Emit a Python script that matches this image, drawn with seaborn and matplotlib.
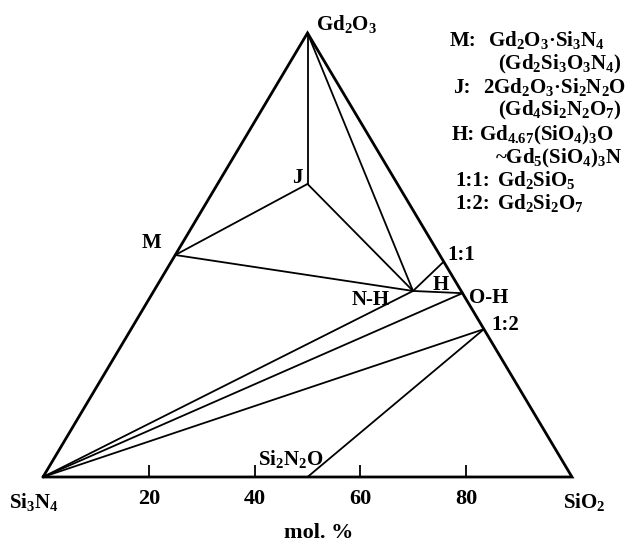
import numpy as np
import pandas as pd
import matplotlib
matplotlib.use("Agg")
import matplotlib.pyplot as plt
import seaborn as sns

# Phase compositions in mol.% (Si3N4 is the remainder to 100)
phases = ["Si3N4", "SiO2", "Gd2O3", "M", "J", "N-H", "1:1", "O-H", "1:2", "Si2N2O"]
gd2o3_pct = [0, 0, 100, 50, 66, 41.9, 48.5, 41.4, 33.3, 0]
sio2_pct = [0, 100, 0, 0, 17, 49.0, 51.5, 58.6, 66.7, 50]

# Triangle outline and tie lines (pairs of phases)
outline = ["Si3N4", "SiO2", "Gd2O3", "Si3N4"]
tie_lines = [
    ("Gd2O3", "J"), ("Gd2O3", "N-H"), ("M", "J"), ("J", "N-H"),
    ("M", "N-H"), ("N-H", "1:1"), ("N-H", "O-H"),
    ("Si3N4", "N-H"), ("Si3N4", "O-H"), ("Si3N4", "1:2"),
    ("Si2N2O", "1:2"),
]

tick_values = [20, 40, 60, 80]
tick_labels = ["20", "40", "60", "80"]

legend_keys = ["M:", "", "J:", "", "H:", "", "1:1:", "1:2:"]
legend_formulas = [
    r"Gd$_2$O$_3$·Si$_3$N$_4$",
    r"(Gd$_2$Si$_3$O$_3$N$_4$)",
    r"2Gd$_2$O$_3$·Si$_2$N$_2$O",
    r"(Gd$_4$Si$_2$N$_2$O$_7$)",
    r"Gd$_{4.67}$(SiO$_4$)$_3$O",
    r"~Gd$_5$(SiO$_4$)$_3$N",
    r"Gd$_2$SiO$_5$",
    r"Gd$_2$Si$_2$O$_7$",
]

sns.set_theme(style="white")
plt.rcParams.update({
    "font.family": ["Liberation Serif", "DejaVu Serif"],
    "font.weight": "bold",
    "mathtext.fontset": "custom",
    "mathtext.rm": "Liberation Serif:bold",
    "mathtext.it": "Liberation Serif:bold",
    "mathtext.bf": "Liberation Serif:bold",
    "mathtext.default": "rm",
})

# Ternary -> cartesian (Si3N4 at left, SiO2 at right, Gd2O3 on top)
pts = pd.DataFrame({"phase": phases, "gd2o3": gd2o3_pct, "sio2": sio2_pct}).set_index("phase")
pts["x"] = pts["sio2"] / 100 + pts["gd2o3"] / 200
pts["y"] = pts["gd2o3"] / 100

outline_df = pts.loc[outline, ["x", "y"]].reset_index()
ties_df = pd.concat(
    [pts.loc[list(pair), ["x", "y"]].assign(line=i) for i, pair in enumerate(tie_lines)],
    ignore_index=True,
)

W, H = 627, 542
fig = plt.figure(figsize=(W / 100, H / 100), dpi=100)
ax = fig.add_axes([43 / W, 65 / H, 529 / W, 444 / H])
ax.set_facecolor("none")

sns.lineplot(data=ties_df, x="x", y="y", units="line", estimator=None, sort=False,
             color="black", lw=1.3, clip_on=False, ax=ax)
sns.lineplot(data=outline_df, x="x", y="y", estimator=None, sort=False,
             color="black", lw=2.0, clip_on=False, solid_joinstyle="miter", ax=ax)

ax.set_xlim(0, 1)
ax.set_ylim(0, 1)
for s in ax.spines.values():
    s.set_visible(False)
ax.set_yticks([])
ax.set_xticks(np.array(tick_values) / 100, tick_labels)
ax.tick_params(axis="x", direction="in", length=8.6, width=1.3, pad=8.5,
               labelsize=16, colors="black", bottom=True)
for t in ax.get_xticklabels():
    t.set_fontweight("bold")
ax.set_xlabel("")
ax.set_ylabel("")


def ptext(px, py, s, ha="left", size=15):
    fig.text(px / W, 1 - py / H, s, ha=ha, va="baseline", fontsize=size,
             fontweight="bold", color="black")


# Phase labels
ptext(316, 30, r"Gd$_2$O$_3$")
ptext(152, 248, "M", ha="center")
ptext(297, 183, "J", ha="center")
ptext(371, 305, "N-H", ha="center")
ptext(441, 290, "H", ha="center")
ptext(469, 303, "O-H")
ptext(447, 260, "1:1")
ptext(491, 330, "1:2")
ptext(258, 465, r"Si$_2$N$_2$O")

# Corner labels and axis title
ptext(34, 508, r"Si$_3$N$_4$", ha="center")
ptext(584, 508, r"SiO$_2$", ha="center")
ptext(319, 538, "mol. %", ha="center", size=16)

# Key to the phase symbols
key_x = [450, 0, 453, 0, 452, 0, 455, 455]
formula_x = [488, 498, 483, 498, 479, 495, 497, 497]
baselines = [46, 69, 93, 115, 140, 163, 186, 209]
for k, f, kx, fx, yb in zip(legend_keys, legend_formulas, key_x, formula_x, baselines):
    if k:
        ptext(kx, yb, k)
    ptext(fx, yb, f)

fig.savefig("out.png", dpi=100)
